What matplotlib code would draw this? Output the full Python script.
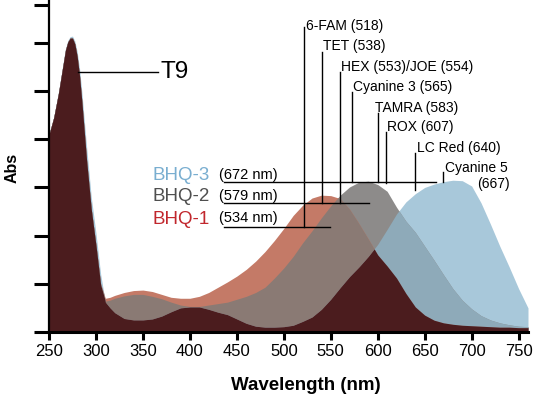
import matplotlib
matplotlib.use("Agg")
import matplotlib.pyplot as plt
import numpy as np

plt.rcParams["font.family"] = ["Liberation Sans", "DejaVu Sans"]

wavelength = [250, 255, 260, 265, 267.5, 270, 272.5, 275, 277.5, 280, 282.5, 285, 290,
              295, 300, 305, 310, 315,
              320, 330, 340, 350, 360, 370, 380, 390, 400, 410, 420, 430, 440, 450,
              460, 470, 480, 490, 500, 510, 520, 530, 540, 550, 560, 570, 580, 590,
              600, 610, 620, 630, 640, 650, 660, 670, 680, 690, 700, 710, 720, 730,
              740, 750, 760]

bhq1 = [4.1, 4.45, 4.95, 5.55, 5.85, 6.02, 6.1, 6.1, 5.98, 5.72, 5.32, 4.78, 3.57,
        2.55, 1.8, 1.0, 0.70, 0.72,
        0.76, 0.82, 0.86, 0.87, 0.84, 0.78, 0.72, 0.70, 0.70, 0.74, 0.82, 0.93, 1.04, 1.16,
        1.30, 1.47, 1.67, 1.90, 2.15, 2.42, 2.63, 2.78, 2.84, 2.83, 2.77, 2.55, 2.25, 1.93,
        1.60, 1.37, 1.12, 0.80, 0.52, 0.35, 0.245, 0.19, 0.16, 0.14, 0.13, 0.12, 0.11, 0.10,
        0.10, 0.09, 0.09]

bhq2 = [4.1, 4.45, 4.95, 5.55, 5.85, 6.02, 6.1, 6.1, 5.98, 5.72, 5.32, 4.78, 3.57,
        2.55, 1.8, 0.98, 0.64, 0.66,
        0.70, 0.75, 0.78, 0.78, 0.74, 0.69, 0.62, 0.56, 0.53, 0.53, 0.56, 0.59, 0.62, 0.68,
        0.74, 0.82, 0.93, 1.12, 1.33, 1.57, 1.85, 2.10, 2.37, 2.62, 2.84, 3.01, 3.11, 3.13,
        3.06, 2.92, 2.59, 2.30, 2.07, 1.78, 1.49, 1.19, 0.90, 0.66, 0.48, 0.34, 0.25, 0.19,
        0.15, 0.12, 0.11]

bhq3 = [4.1, 4.45, 4.97, 5.58, 5.88, 6.05, 6.13, 6.14, 6.04, 5.82, 5.47, 4.98, 3.85,
        2.8, 2.05, 1.2, 0.62, 0.50,
        0.40, 0.28, 0.25, 0.25, 0.27, 0.33, 0.42, 0.50, 0.52, 0.52, 0.47, 0.41, 0.36, 0.27,
        0.18, 0.12, 0.10, 0.10, 0.11, 0.14, 0.22, 0.31, 0.47, 0.68, 0.92, 1.15, 1.35, 1.57,
        1.82, 2.13, 2.45, 2.70, 2.87, 3.00, 3.07, 3.12, 3.15, 3.14, 3.03, 2.68, 2.24, 1.78,
        1.35, 0.90, 0.50]

quenchers = ["BHQ-3", "BHQ-2", "BHQ-1"]
quencher_peaks = ["(672 nm)", "(579 nm)", "(534 nm)"]
quencher_line_end = [662, 590.5, 549.5]

dyes = ["6-FAM (518)", "TET (538)", "HEX (553)/JOE (554)", "Cyanine 3 (565)",
        "TAMRA (583)", "ROX (607)", "LC Red (640)", "Cyanine 5"]
dye_x = [521.8, 540.2, 560.1, 572.9, 599.8, 609.1, 640.2, 670]

c1 = "#c47a67"
c2 = "#8d8b8a"
c3 = "#a8c8da"
c12 = "#8a7a74"
c23 = "#8eaab9"
c13 = "#a99a98"
c123 = "#4b1c1e"


def lower_env(x, ys):
    # lower envelope of piecewise linear curves, with crossing points added
    ys = [np.asarray(y, dtype=float) for y in ys]
    xs = [x[0]]
    vs = [min(y[0] for y in ys)]
    for i in range(len(x) - 1):
        ts = []
        for p in range(len(ys)):
            for q in range(p + 1, len(ys)):
                d0 = ys[p][i] - ys[q][i]
                d1 = ys[p][i + 1] - ys[q][i + 1]
                if d0 * d1 < 0:
                    ts.append(d0 / (d0 - d1))
        for t in sorted(ts):
            xs.append(x[i] + t * (x[i + 1] - x[i]))
            vs.append(min(y[i] + t * (y[i + 1] - y[i]) for y in ys))
        xs.append(x[i + 1])
        vs.append(min(y[i + 1] for y in ys))
    return np.array(xs), np.array(vs)


fig = plt.figure(figsize=(5.33, 3.96), dpi=100)
ax = fig.add_axes([49 / 533, 64 / 396, 479 / 533, 332 / 396])

x = np.array(wavelength, dtype=float)
ax.fill_between(x, 0, bhq3, color=c3, lw=0)
ax.fill_between(x, 0, bhq2, color=c2, lw=0)
ax.fill_between(x, 0, bhq1, color=c1, lw=0)
for pair, col in [((bhq1, bhq2), c12), ((bhq2, bhq3), c23), ((bhq1, bhq3), c13)]:
    ex, ev = lower_env(x, pair)
    ax.fill_between(ex, 0, ev, color=col, lw=0)
ex, ev = lower_env(x, (bhq1, bhq2, bhq3))
ax.fill_between(ex, 0, ev, color=c123, lw=0)

# T9 label
ax.plot([281.2, 365.9], [5.40, 5.40], color="black", lw=1)
ax.text(368.5, 5.40, "T9", fontsize=17.5, va="center", ha="left")

# quencher labels
label_y = [3.155, 2.71, 2.245]
line_y = [3.12, 2.672, 2.174]
label_cols = ["#79aed0", "#4f4f4f", "#c1272d"]
for i in range(3):
    ax.text(360.6, label_y[i], quenchers[i], color=label_cols[i], fontsize=13.5,
            va="baseline", ha="left")
    ax.text(430.5, label_y[i] + 0.03, quencher_peaks[i], fontsize=10.5,
            va="baseline", ha="left")
    ax.plot([436, quencher_line_end[i]], [line_y[i], line_y[i]], color="black", lw=1)

# dye labels
dye_top = [6.33, 5.82, 5.40, 4.99, 4.55, 4.15, 3.71, 3.33]
dye_bottom = [2.174, 2.672, 2.672, 3.12, 3.12, 3.09, 2.95, 3.12]
dye_text_x = [523.9, 541.6, 561.2, 573.7, 597.6, 609.7, 641.8, 671.5]
dye_text_y = [6.27, 5.85, 5.42, 5.01, 4.57, 4.18, 3.74, 3.33]
for i in range(len(dyes)):
    ax.plot([dye_x[i], dye_x[i]], [dye_bottom[i], dye_top[i]], color="black", lw=1)
    ax.text(dye_text_x[i], dye_text_y[i], dyes[i], fontsize=10, va="baseline", ha="left")
ax.text(740.1, 2.99, "(667)", fontsize=10, va="baseline", ha="right")

ax.set_xlim(250, 760)
ax.set_ylim(0, 6.89)
ax.set_xticks(np.arange(250, 751, 50))
ax.set_yticks([0, 1, 2, 3, 4, 5, 6, 6.79])
ax.set_yticklabels([])
ax.tick_params(axis="x", length=6, width=2.2, labelsize=12, pad=3)
ax.tick_params(axis="y", length=11, width=2.2)
ax.spines["top"].set_visible(False)
ax.spines["right"].set_visible(False)
ax.spines["left"].set_linewidth(1.6)
ax.spines["bottom"].set_linewidth(2.2)

fig.text(12 / 533, 1 - 168 / 396, "Abs", rotation=90, fontsize=11.5, fontweight="bold",
         ha="center", va="center")
fig.text(306 / 533, 6 / 396, "Wavelength (nm)", fontsize=13.5, fontweight="bold",
         ha="center", va="baseline")

fig.savefig("out.png", dpi=100)
